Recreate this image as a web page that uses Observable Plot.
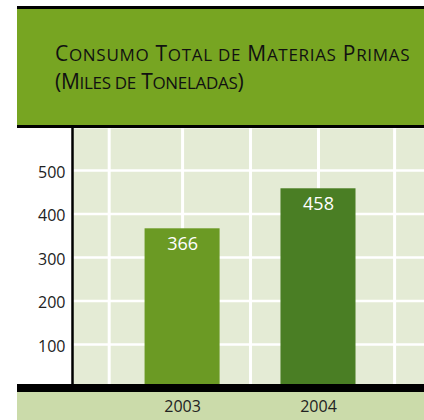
<!DOCTYPE html>
<html>
<head>
<meta charset="utf-8">
<script src="https://cdn.jsdelivr.net/npm/d3@7"></script>
<script src="https://cdn.jsdelivr.net/npm/@observablehq/plot@0.6"></script>
<style>
  html, body { margin: 0; padding: 0; background: white; }
  #wrap { position: relative; width: 424px; height: 420px; overflow: hidden; font-family: "Open Sans", sans-serif; }
  #header { position: absolute; left: 17px; top: 6px; width: 407px; height: 116px; background: #77a522;
            border-top: 3px solid #000; border-bottom: 3px solid #000; z-index: 2; }
  #title { position: absolute; left: 38px; top: 31px; font-size: 21px; line-height: 26px; color: #111;
           white-space: nowrap; }
  #title .l1 { letter-spacing: 0.7px; }
  #title .l2 { letter-spacing: -0.3px; }
  #title .s { font-size: 17px; text-transform: uppercase; }
  #chart { position: absolute; left: 0; top: 128px; z-index: 1; }
  #baseband { position: absolute; left: 17px; top: 384px; width: 407px; height: 8px; background: #000; z-index: 3; }
  #xband { position: absolute; left: 17px; top: 392px; width: 407px; height: 28px; background: #cbdbaa; z-index: 0; }
</style>
</head>
<body>
<div id="wrap">
  <div id="header"><div id="title"><span class="l1">C<span class="s">onsumo</span> T<span class="s">otal de</span> M<span class="s">aterias</span> P<span class="s">rimas</span></span><br><span class="l2">(M<span class="s">iles de</span> T<span class="s">oneladas</span>)</span></div></div>
  <div id="xband"></div>
  <div id="chart"></div>
  <div id="baseband"></div>
</div>
<script>
const years = [2003, 2004];
const values = [366, 458];
const barColors = ["#6b9a24", "#4a7e24"];
const yTicks = [100, 200, 300, 400, 500];
const xGrid = [2002.46, 2003, 2003.5, 2004, 2004.56];
const xDomain = [2002.19, 2004.78];
const yDomain = [0, 596.6];
const barHalfWidth = 0.276;

const data = years.map((year, i) => ({year, value: values[i], color: barColors[i]}));

const chart = Plot.plot({
  width: 424,
  height: 292,
  marginLeft: 72,
  marginRight: 0,
  marginTop: 0,
  marginBottom: 32.5,
  x: {type: "linear", domain: xDomain, label: null},
  y: {domain: yDomain, label: null},
  color: {type: "identity"},
  style: {background: "transparent", fontFamily: "Open Sans", fontSize: "16px", color: "#222"},
  marks: [
    Plot.frame({fill: "#e4ebd5", stroke: null}),
    Plot.gridY(yTicks, {stroke: "white", strokeOpacity: 1, strokeWidth: 2.5}),
    Plot.gridX(xGrid, {stroke: "white", strokeOpacity: 1, strokeWidth: 3}),
    Plot.rectY(data, {x1: d => d.year - barHalfWidth, x2: d => d.year + barHalfWidth, y1: 0, y2: "value", fill: "color"}),
    Plot.text(data, {x: "year", y: "value", text: d => String(d.value), fill: "white", lineAnchor: "top", dy: 8, fontSize: 18}),
    Plot.axisY(yTicks, {tickSize: 0, tickPadding: 7, dy: 2, fontSize: 16, label: null}),
    Plot.axisX(years, {tickSize: 0, tickPadding: 13, fontSize: 16, label: null, tickFormat: d => String(d)}),
    Plot.ruleX([xDomain[0]], {stroke: "black", strokeWidth: 2.5})
  ]
});
document.getElementById("chart").appendChild(chart);
</script>
</body>
</html>
